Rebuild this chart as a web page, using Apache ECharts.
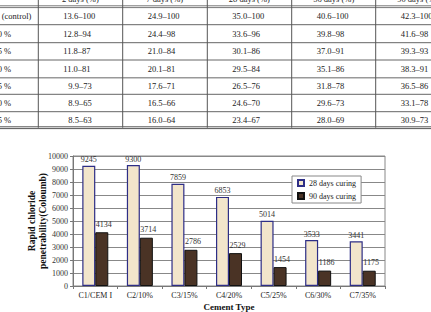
<!DOCTYPE html>
<html>
<head>
<meta charset="utf-8">
<script src="https://cdn.jsdelivr.net/npm/echarts@6/dist/echarts.min.js"></script>
<style>
html,body{margin:0;padding:0;background:#fff;}
#c{width:431px;height:312px;}
</style>
</head>
<body>
<div id="c"></div>
<script>
// ---- Table data (upper part of the figure) ----
var tableHeaders = ["2 days (%)", "7 days (%)", "28 days (%)", "56 days (%)", "90 days (%)"];
var tableRowLabels = ["(control)", "10 %", "15 %", "20 %", "25 %", "30 %", "35 %"];
var day2  = ["13.6–100", "12.8–94", "11.8–87", "11.0–81", "9.9–73", "8.9–65", "8.5–63"];
var day7  = ["24.9–100", "24.4–98", "21.0–84", "20.1–81", "17.6–71", "16.5–66", "16.0–64"];
var day28 = ["35.0–100", "33.6–96", "30.1–86", "29.5–84", "26.5–76", "24.6–70", "23.4–67"];
var day56 = ["40.6–100", "39.8–98", "37.0–91", "35.1–86", "31.8–78", "29.6–73", "28.0–69"];
var day90 = ["42.3–100", "41.6–98", "39.3–93", "38.3–91", "36.5–86", "33.1–78", "30.9–73"];

// ---- Chart data ----
var categories = ["C1/CEM I", "C2/10%", "C3/15%", "C4/20%", "C5/25%", "C6/30%", "C7/35%"];
var curing28 = [9245, 9300, 7859, 6853, 5014, 3533, 3441];
var curing90 = [4134, 3714, 2786, 2529, 1454, 1186, 1175];
var yTicks = [0, 1000, 2000, 3000, 4000, 5000, 6000, 7000, 8000, 9000, 10000];

var FONT = '"Liberation Serif", "Times New Roman", serif';

// table layout
var colLines = [38.3, 122.7, 207.3, 291.7, 375.7];
var hLines = [6.7, 24.7, 42.7, 60, 77.7, 94.3, 111.7, 127.7];
var columns = [day2, day7, day28, day56, day90];
var g = [];
function hline(y, w, c) {
  g.push({type:'line', shape:{x1:0, y1:y, x2:431, y2:y}, style:{stroke:c||'#555', lineWidth:w||1}, silent:true});
}
hline(5.8, 0.8); hline(7.6, 0.8);
for (var i = 1; i < hLines.length - 1; i++) {
  if (i === 4) hline(hLines[i], 1.6, '#999'); else hline(hLines[i], 1, '#666');
}
hline(126.8, 0.9, '#444'); hline(128.6, 0.9, '#444');
colLines.forEach(function (x) {
  g.push({type:'line', shape:{x1:x, y1:0, x2:x, y2:127.7}, style:{stroke:'#555', lineWidth:1}, silent:true});
});
tableHeaders.forEach(function (h, j) {
  g.push({type:'text', x: colLines[j] + 42, y: -1.5, style:{text:h, font:'8.5px ' + FONT, fill:'#222', align:'center', verticalAlign:'middle'}, silent:true});
});
tableRowLabels.forEach(function (lab, r) {
  var cy = (hLines[r] + hLines[r + 1]) / 2;
  g.push({type:'text', x: r === 0 ? 1.7 : -6.6, y: cy, style:{text:lab, font:'8.5px ' + FONT, fill:'#222', align:'left', verticalAlign:'middle'}, silent:true});
  columns.forEach(function (col, j) {
    var v = col[r];
    var oneDigit = v.indexOf('.') === 1;
    g.push({type:'text', x: colLines[j] + 25 + (oneDigit ? 5 : 0), y: cy, style:{text:v, font:'8.5px ' + FONT, fill:'#222', align:'left', verticalAlign:'middle'}, silent:true});
  });
});

var chart = echarts.init(document.getElementById('c'), null, {renderer:'svg'});
chart.setOption({
  animation: false,
  backgroundColor: '#fff',
  textStyle: {fontFamily: FONT},
  graphic: g,
  grid: {left: 73, right: 46, top: 156, bottom: 24, show: true, borderColor: '#888', borderWidth: 1, backgroundColor: 'transparent'},
  legend: {
    left: 292, top: 176, orient: 'vertical',
    itemWidth: 6, itemHeight: 6, itemGap: 5, itemTextGap: 3,
    padding: [3, 5, 3, 5],
    borderColor: '#888', borderWidth: 1, backgroundColor: '#fff',
    textStyle: {fontSize: 8, color: '#222', fontFamily: FONT},
    icon: 'rect',
    data: ['28 days curing', '90 days curing']
  },
  xAxis: {
    type: 'category', data: categories,
    name: 'Cement Type', nameLocation: 'middle', nameGap: 16, nameMoveOverlap: false,
    nameTextStyle: {fontSize: 9, fontWeight: 'bold', color: '#111', fontFamily: FONT},
    axisLine: {lineStyle: {color: '#777', width: 1}},
    axisTick: {show: true, length: 3, lineStyle: {color: '#777'}},
    axisLabel: {fontSize: 8, color: '#222', margin: 5, interval: 0, fontFamily: FONT}
  },
  yAxis: {
    type: 'value', min: 0, max: 10000, interval: 1000,
    name: 'Rapid chloride\npenetrability(Coloumb)', nameLocation: 'middle', nameGap: 25, nameMoveOverlap: false,
    nameTextStyle: {fontSize: 9.5, fontWeight: 'bold', color: '#111', lineHeight: 11, fontFamily: FONT},
    axisLine: {show: true, lineStyle: {color: '#777', width: 1}},
    axisTick: {show: true, length: 3, lineStyle: {color: '#777'}},
    axisLabel: {fontSize: 8, color: '#333', margin: 5, fontFamily: FONT,
      formatter: function (v) { return yTicks.indexOf(v) >= 0 ? String(v) : ''; }},
    splitLine: {lineStyle: {color: '#888', width: 1}}
  },
  series: [
    {
      name: '28 days curing', type: 'bar', data: curing28, barWidth: 13, barGap: '0%',
      itemStyle: {color: '#f2e5cb', borderColor: '#2e2e86', borderWidth: 1.2},
      label: {show: true, position: 'top', distance: 2, fontSize: 8, color: '#333', fontFamily: FONT}
    },
    {
      name: '90 days curing', type: 'bar', data: curing90, barWidth: 13,
      itemStyle: {color: '#4a3325', borderColor: '#111', borderWidth: 1},
      label: {show: true, position: 'top', distance: 4, offset: [2, 0], fontSize: 8, color: '#333', fontFamily: FONT}
    }
  ]
});
</script>
</body>
</html>
